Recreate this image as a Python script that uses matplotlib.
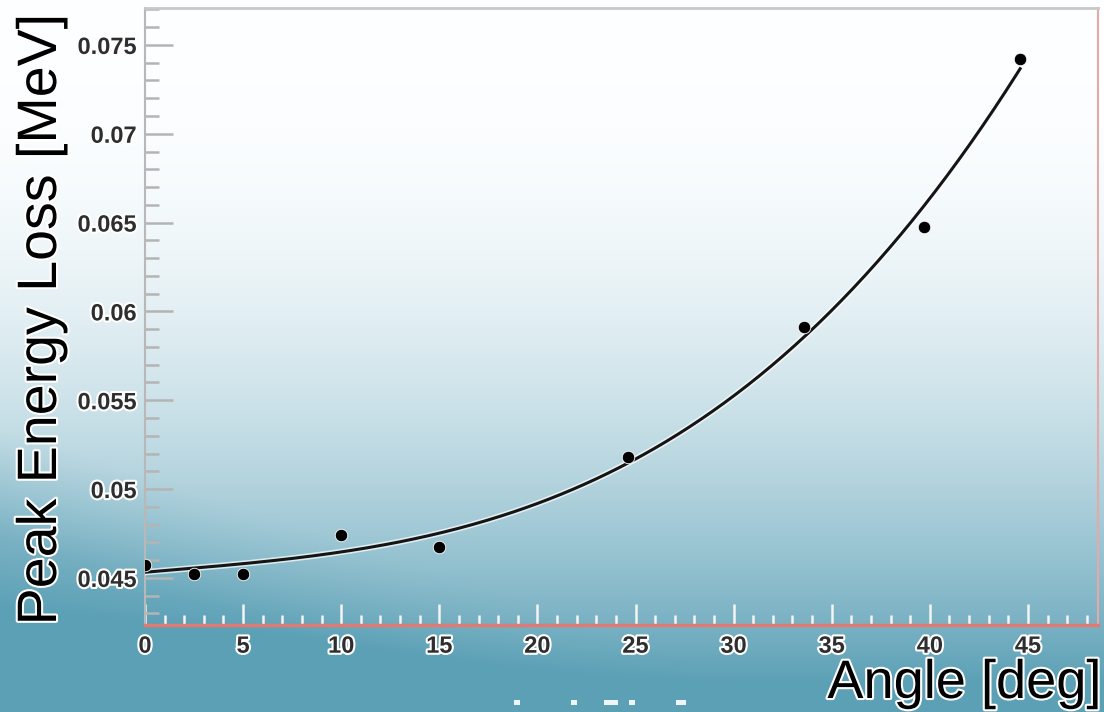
import matplotlib.pyplot as plt
import matplotlib.patheffects as pe
from matplotlib.patches import Rectangle
from matplotlib.ticker import MultipleLocator
import numpy as np

plt.rcParams['font.family'] = ['Liberation Sans', 'DejaVu Sans']

# measured peak energy loss vs. track angle
angle = [0.0, 2.5, 5.0, 10.0, 15.0, 24.6, 33.6, 39.7, 44.6]
peak_eloss = [0.04574, 0.04523, 0.04523, 0.04739, 0.04676, 0.05182, 0.05915, 0.06477, 0.0742]
y_ticks = [0.045, 0.05, 0.055, 0.06, 0.065, 0.07, 0.075]
y_tick_labels = ['0.045', '0.05', '0.055', '0.06', '0.065', '0.07', '0.075']
x_ticks = [0, 5, 10, 15, 20, 25, 30, 35, 40, 45]

W, H = 1104, 712
fig = plt.figure(figsize=(W / 100, H / 100), dpi=100)

# slide background: white at the top fading into teal, darker to the lower left
bg = fig.add_axes([0, 0, 1, 1], zorder=-10)
yy, xx = np.mgrid[0:H, 0:W].astype(float)
t = yy / H
f = np.clip((t - 0.12) / 0.85, 0, 1) ** 1.9
edge = yy - (470 + 0.33 * xx)
f = f + 0.22 * np.clip(edge / 110 + 0.4, 0, 1) * np.clip(1 - xx / 750, 0, 1)
f = np.clip(f, 0, 0.97)
white = np.array([252, 254, 255]) / 255
teal = np.array([88, 158, 180]) / 255
img = white[None, None, :] * (1 - f[..., None]) + teal[None, None, :] * f[..., None]
bg.imshow(img, extent=[0, W, H, 0], aspect='auto', interpolation='bilinear')
for x0, w in [(514, 6), (571, 6), (604, 14), (629, 6), (676, 10)]:
    bg.add_patch(Rectangle((x0, 700), w, 5, facecolor='white', edgecolor='none', alpha=0.9))
bg.set_xlim(0, W)
bg.set_ylim(H, 0)
bg.axis('off')

ax = fig.add_axes([145 / W, 1 - 625 / H, (1098 - 145) / W, (625 - 8) / H])
ax.set_facecolor('none')

halo = [pe.Stroke(linewidth=4.5, foreground='white', alpha=0.7), pe.Normal()]

# fitted curve through the measured points
coef = np.polyfit(angle, peak_eloss, 3)
xs = np.linspace(min(angle), max(angle), 300)
ax.plot(xs, np.polyval(coef, xs), color='#151515', lw=2.2, path_effects=halo, zorder=3)
ax.plot(angle, peak_eloss, 'o', color='black', ms=9, mec='white', mew=0.6, zorder=4)

ax.set_xlim(0, 48.57)
ax.set_ylim(0.04235, 0.07708)
ax.set_yticks(y_ticks)
ax.set_yticklabels(y_tick_labels)
ax.set_xticks(x_ticks)
ax.yaxis.set_minor_locator(MultipleLocator(0.001))
ax.xaxis.set_minor_locator(MultipleLocator(1))

ax.tick_params(axis='y', which='both', direction='in', left=True, right=False,
               color='#b4b4b4', width=1.8, labelsize=17, labelcolor='#2e2e2e', pad=6)
ax.tick_params(axis='y', which='major', length=20)
ax.tick_params(axis='y', which='minor', length=10)
ax.tick_params(axis='x', which='both', direction='in', bottom=True, top=False,
               color='#f4f4f4', width=1.8, labelsize=17, labelcolor='#2e2e2e', pad=7)
ax.tick_params(axis='x', which='major', length=15)
ax.tick_params(axis='x', which='minor', length=7)
for lab in ax.get_xticklabels() + ax.get_yticklabels():
    lab.set_fontweight('bold')
    lab.set_path_effects([pe.withStroke(linewidth=3, foreground='white')])

ax.spines['left'].set_color('#b8b8b8')
ax.spines['left'].set_linewidth(1.5)
ax.spines['bottom'].set_color('#e07a72')
ax.spines['bottom'].set_linewidth(2.5)
ax.spines['top'].set_color('#c8c8c8')
ax.spines['top'].set_linewidth(2)
ax.spines['right'].set_color('#e4aaa8')
ax.spines['right'].set_linewidth(1.5)

label_fx = [pe.withStroke(linewidth=3, foreground='white')]
fig.text(42 / W, 1 - 320 / H, 'Peak Energy Loss [MeV]', rotation=90, fontsize=40,
         ha='center', va='center', color='black', path_effects=label_fx)
fig.text(1101 / W, 1 - 698 / H, 'Angle [deg]', fontsize=39, ha='right', va='baseline',
         color='black', path_effects=label_fx)

fig.savefig('out.png', dpi=100)
